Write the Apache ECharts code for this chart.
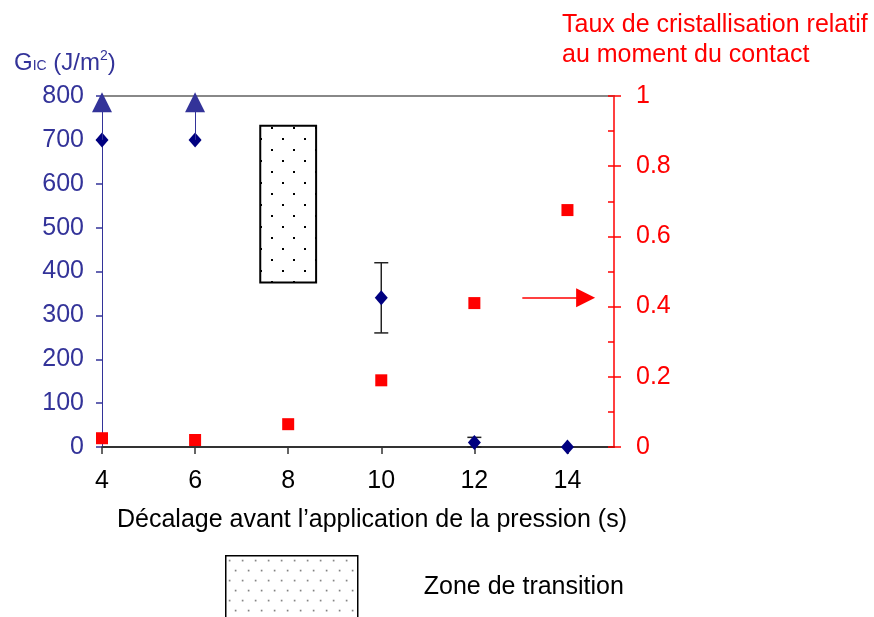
<!DOCTYPE html>
<html><head><meta charset="utf-8">
<script src="https://cdn.jsdelivr.net/npm/echarts@6/dist/echarts.min.js"></script>
<style>html,body{margin:0;padding:0;background:#fff}#c{width:874px;height:617px}</style>
</head><body><div id="c"></div>
<script>
// ---- data ----
const xTicks = [4, 6, 8, 10, 12, 14];
const gicX = [4, 6, 10, 12, 14];
const gicY = [700, 700, 340, 10, 0];
const errX = [10, 12];
const errLow = [260, 0];
const errHigh = [420, 22];
const crystX = [4, 6, 8, 10, 12, 14];
const crystY = [0.025, 0.02, 0.065, 0.19, 0.41, 0.675];
const censoredX = [4, 6];      // G_IC > 700 (arrows)
const censoredFrom = [700, 700];
const censoredTo = [786, 786];
const zoneX = [7.4, 8.6];
const zoneY = [375, 732];
const redArrowX = [13.03, 14.39];
const redArrowY = 0.425;
const zoneName = 'Zone de transition';

const FONT = "'Liberation Sans', Arial, sans-serif";
const FS = 25;
const BLUE = '#333399', NAVY = '#000080', RED = '#ff0000';

function makePattern(w, h, dots, color, s) {
  const c = document.createElement('canvas');
  c.width = w; c.height = h;
  const g = c.getContext('2d');
  g.fillStyle = '#fff'; g.fillRect(0, 0, w, h);
  g.fillStyle = color;
  dots.forEach(d => g.fillRect(d[0], d[1], s, s));
  return { image: c, repeat: 'repeat' };
}
const zonePattern = makePattern(22, 22, [[7, 17], [18, 6]], '#000', 2);
const legendPattern = makePattern(26, 20, [[3, 4], [16, 4], [9, 14], [22, 14]], '#666', 1.5);

const chart = echarts.init(document.getElementById('c'), null, { renderer: 'canvas' });
const option = {
  animation: false,
  textStyle: { fontFamily: FONT },
  title: [
    {
      text: '{g|G}{s|IC}{g| (J/m}{sup|2}{g|)}',
      left: 14, top: 49, padding: 0,
      textStyle: {
        fontWeight: 'normal',
        rich: {
          g: { fontSize: 24, color: BLUE, fontFamily: FONT, fontWeight: 'normal', verticalAlign: 'middle', lineHeight: 24 },
          s: { fontSize: 14, color: BLUE, fontFamily: FONT, fontWeight: 'normal', verticalAlign: 'middle', padding: [7, 0, 0, 0] },
          sup: { fontSize: 14, color: BLUE, fontFamily: FONT, fontWeight: 'normal', verticalAlign: 'middle', padding: [0, 0, 14, 0] }
        }
      }
    },
    {
      text: 'Taux de cristallisation relatif\nau moment du contact',
      left: 562, top: 10, padding: 0,
      textStyle: { fontSize: FS, color: RED, fontWeight: 'normal', fontFamily: FONT, lineHeight: 30 }
    }
  ],
  legend: {
    left: 225, top: 555, padding: 0,
    itemWidth: 132, itemHeight: 62,
    icon: 'rect',
    data: [{ name: zoneName, itemStyle: { color: legendPattern, borderColor: '#000', borderWidth: 1.5 } }],
    textStyle: { fontSize: FS, color: '#000', fontFamily: FONT, padding: [0, 0, 0, 61] },
    selectedMode: false
  },
  grid: { left: 102, right: 260, top: 96, bottom: 170, containLabel: false },
  xAxis: [
    {
      type: 'value', min: 4, max: 15, interval: 2, position: 'bottom',
      name: 'Décalage avant l’application de la pression (s)',
      nameLocation: 'middle', nameGap: 61,
      nameTextStyle: { fontSize: FS, color: '#000', fontFamily: FONT, padding: [0, 0, 0, 28] },
      axisLine: { onZero: false, lineStyle: { color: '#333', width: 2 } },
      axisTick: { show: true, length: 7, lineStyle: { color: '#333', width: 1.5 } },
      axisLabel: { fontSize: FS, color: '#000', margin: 22, showMaxLabel: false,
        formatter: v => xTicks.indexOf(v) >= 0 ? String(v) : '' },
      splitLine: { show: false }
    },
    {
      type: 'value', min: 4, max: 15, position: 'top',
      axisLine: { show: true, onZero: false, lineStyle: { color: '#888', width: 2 } },
      axisTick: { show: false }, axisLabel: { show: false }, splitLine: { show: false }
    }
  ],
  yAxis: [
    {
      type: 'value', min: 0, max: 800, interval: 100, position: 'left',
      axisLine: { show: true, onZero: false, lineStyle: { color: BLUE, width: 1 } },
      axisTick: { show: true, length: 6, lineStyle: { color: BLUE, width: 1.5 } },
      axisLabel: { fontSize: FS, color: BLUE, margin: 18 },
      splitLine: { show: false }
    },
    {
      type: 'value', min: 0, max: 1, interval: 0.2, position: 'right',
      axisLine: { show: true, onZero: false, lineStyle: { color: RED, width: 1.5 } },
      axisTick: { show: true, length: 7, lineStyle: { color: RED, width: 1.5 } },
      axisLabel: { fontSize: FS, color: RED, margin: 22 },
      splitLine: { show: false }
    },
    {
      type: 'value', min: 0, max: 1, interval: 0.1, position: 'right',
      axisLine: { show: false },
      axisTick: { show: true, inside: true, length: 6, lineStyle: { color: RED, width: 1.5 } },
      axisLabel: { show: false },
      splitLine: { show: false }
    }
  ],
  series: [
    {
      name: zoneName, type: 'custom', xAxisIndex: 0, yAxisIndex: 0,
      itemStyle: { color: zonePattern },
      data: [[zoneX[0], zoneX[1], zoneY[0], zoneY[1]]],
      renderItem: function (params, api) {
        const p1 = api.coord([api.value(0), api.value(3)]);
        const p2 = api.coord([api.value(1), api.value(2)]);
        return {
          type: 'rect',
          shape: { x: p1[0], y: p1[1], width: p2[0] - p1[0], height: p2[1] - p1[1] },
          style: { fill: zonePattern, stroke: '#000', lineWidth: 2 }
        };
      }
    },
    {
      name: 'Taux', type: 'scatter', yAxisIndex: 1,
      symbol: 'rect', symbolSize: 12,
      itemStyle: { color: RED, opacity: 1 },
      data: crystX.map((x, i) => [x, crystY[i]]),
      markLine: {
        silent: true, symbol: ['none', 'triangle'], symbolSize: [19, 19],
        label: { show: false },
        lineStyle: { color: RED, width: 1.5, type: 'solid', opacity: 1 },
        itemStyle: { color: RED },
        data: [[{ coord: [redArrowX[0], redArrowY] }, { coord: [redArrowX[1], redArrowY] }]]
      }
    },
    {
      name: 'err', type: 'custom', yAxisIndex: 0,
      data: errX.map((x, i) => [x, errLow[i], errHigh[i]]),
      renderItem: function (params, api) {
        const lo = api.coord([api.value(0), api.value(1)]);
        const hi = api.coord([api.value(0), api.value(2)]);
        const w = 7;
        const st = { stroke: '#222', lineWidth: 1.5 };
        return {
          type: 'group',
          children: [
            { type: 'line', shape: { x1: lo[0], y1: lo[1], x2: hi[0], y2: hi[1] }, style: st },
            { type: 'line', shape: { x1: lo[0] - w, y1: lo[1], x2: lo[0] + w, y2: lo[1] }, style: st },
            { type: 'line', shape: { x1: hi[0] - w, y1: hi[1], x2: hi[0] + w, y2: hi[1] }, style: st }
          ]
        };
      }
    },
    {
      name: 'GIC', type: 'scatter', yAxisIndex: 0,
      symbol: 'diamond', symbolSize: [13, 15],
      itemStyle: { color: NAVY, opacity: 1 },
      data: gicX.map((x, i) => [x, gicY[i]]),
      markLine: {
        silent: true, symbol: ['none', 'triangle'], symbolSize: [20, 20],
        label: { show: false },
        lineStyle: { color: BLUE, width: 1, type: 'solid', opacity: 1 },
        itemStyle: { color: BLUE },
        data: censoredX.map((x, i) => [{ coord: [x, censoredFrom[i]] }, { coord: [x, censoredTo[i]] }])
      }
    }
  ]
};
chart.setOption(option);
</script></body></html>
